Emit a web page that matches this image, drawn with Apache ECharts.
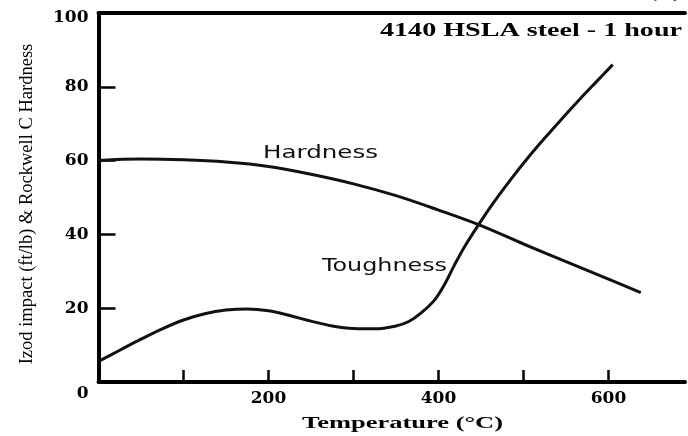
<!DOCTYPE html>
<html>
<head>
<meta charset="utf-8">
<script src="https://cdn.jsdelivr.net/npm/echarts@6/dist/echarts.min.js"></script>
<style>
  html, body { margin: 0; padding: 0; background: #fff; }
  #chart { width: 688px; height: 436px; }
</style>
</head>
<body>
<div id="chart"></div>
<script>
// Tempering response of 4140 steel: hardness and impact toughness vs temperature
const hardnessTemp = [0, 50, 100, 150, 200, 250, 300, 350, 400, 450, 500, 550, 600, 638];
const hardness     = [60.0, 60.4, 60.2, 59.6, 58.4, 56.3, 53.7, 50.5, 46.6, 42.4, 37.4, 32.6, 27.9, 24.2];

const toughnessTemp = [0, 25, 50, 75, 100, 125, 150, 175, 200, 225, 250, 275, 300, 325, 350, 365,
                       380, 396, 408, 419, 431, 447, 466, 486, 505, 525, 545, 564, 585, 605];
const toughness     = [5.6, 8.6, 11.6, 14.4, 16.8, 18.5, 19.5, 19.8, 19.3, 18.0, 16.5, 15.2, 14.5, 14.4, 15.2, 16.4,
                       18.8, 22.4, 26.8, 31.8, 36.8, 42.6, 49.0, 55.2, 60.7, 66.1, 71.3, 76.1, 81.2, 86.0];

const xTicks = [100, 200, 300, 400, 500, 600];
const xTickLabels = [200, 400, 600];
const yTicks = [20, 40, 60, 80];
const yTickLabels = [0, 20, 40, 60, 80, 100];

const chart = echarts.init(document.getElementById('chart'), null, { renderer: 'canvas' });

const tickFont = { fontFamily: 'DejaVu Serif', fontWeight: 'bold', fontSize: 17, color: '#000' };

function pairs(xs, ys) { return xs.map((x, i) => [x, ys[i]]); }

// Width-stretched text helper: scales a string horizontally to a wanted width
const measureCtx = document.createElement('canvas').getContext('2d');
function stretchedText(text, family, weight, size, left, midY, width, color) {
  measureCtx.font = weight + ' ' + size + 'px "' + family + '"';
  const natural = measureCtx.measureText(text).width;
  return {
    type: 'text', x: left, y: midY, scaleX: width / natural, silent: true,
    style: {
      text: text, fontFamily: family, fontWeight: weight, fontSize: size,
      fill: color, textAlign: 'left', textVerticalAlign: 'middle'
    }
  };
}

const lineStyle = { color: '#111', width: 3 };

chart.setOption({
  animation: false,
  backgroundColor: '#fff',
  grid: { left: 98.5, right: 0, top: 13, bottom: 54 },
  xAxis: [{
    type: 'value', min: 0, max: 690, interval: 100,
    axisLine: { onZero: false, lineStyle: { color: '#000', width: 4 } },
    axisTick: { inside: true, length: 12, customValues: xTicks, lineStyle: { color: '#000', width: 2.5 } },
    axisLabel: Object.assign({
      margin: 8,
      formatter: v => (xTickLabels.indexOf(v) >= 0 ? String(v) : '')
    }, tickFont),
    splitLine: { show: false }
  }, {
    type: 'value', position: 'top', min: 0, max: 690,
    axisLine: { show: true, onZero: false, lineStyle: { color: '#000', width: 4 } },
    axisTick: { show: false }, axisLabel: { show: false }, splitLine: { show: false }
  }],
  yAxis: {
    type: 'value', min: 0, max: 100, interval: 20,
    name: 'Izod impact (ft/lb) & Rockwell C Hardness',
    nameLocation: 'middle', nameRotate: 90, nameGap: 62,
    nameTextStyle: { fontFamily: 'Liberation Serif', fontSize: 18.5, color: '#000', padding: [0, 13, 0, 0] },
    axisLine: { show: true, onZero: false, lineStyle: { color: '#000', width: 4 } },
    axisTick: { show: true, inside: true, length: 17, customValues: yTicks, lineStyle: { color: '#000', width: 2.5 } },
    axisLabel: Object.assign({
      margin: 10,
      formatter: v => {
        if (yTickLabels.indexOf(v) < 0) return '';
        if (v === 0) return '{low|0}';
        if (v === 100) return '{top|100}';
        return String(v);
      },
      rich: {
        low: Object.assign({ padding: [24, 0, 0, 0] }, tickFont),
        top: Object.assign({ padding: [10, 0, 0, 0] }, tickFont)
      }
    }, tickFont),
    splitLine: { show: false }
  },
  series: [{
    name: 'Hardness', type: 'line', data: pairs(hardnessTemp, hardness),
    smooth: 0.35, showSymbol: false, lineStyle: lineStyle
  }, {
    name: 'Toughness', type: 'line', data: pairs(toughnessTemp, toughness),
    smooth: 0.35, showSymbol: false, lineStyle: lineStyle
  }],
  graphic: [
    stretchedText('4140 HSLA steel - 1 hour', 'Liberation Serif', 'bold', 18, 380, 31, 302, '#000'),
    stretchedText('(a)', 'Liberation Serif', 'bold', 18, 647, -8, 36, '#000'),
    stretchedText('Temperature (\u00B0C)', 'Liberation Serif', 'bold', 17, 302, 424, 201, '#000'),
    stretchedText('Hardness', 'DejaVu Sans', 'normal', 18, 263, 153, 115, '#111'),
    stretchedText('Toughness', 'DejaVu Sans', 'normal', 18, 322, 266, 125, '#111')
  ]
});
</script>
</body>
</html>
